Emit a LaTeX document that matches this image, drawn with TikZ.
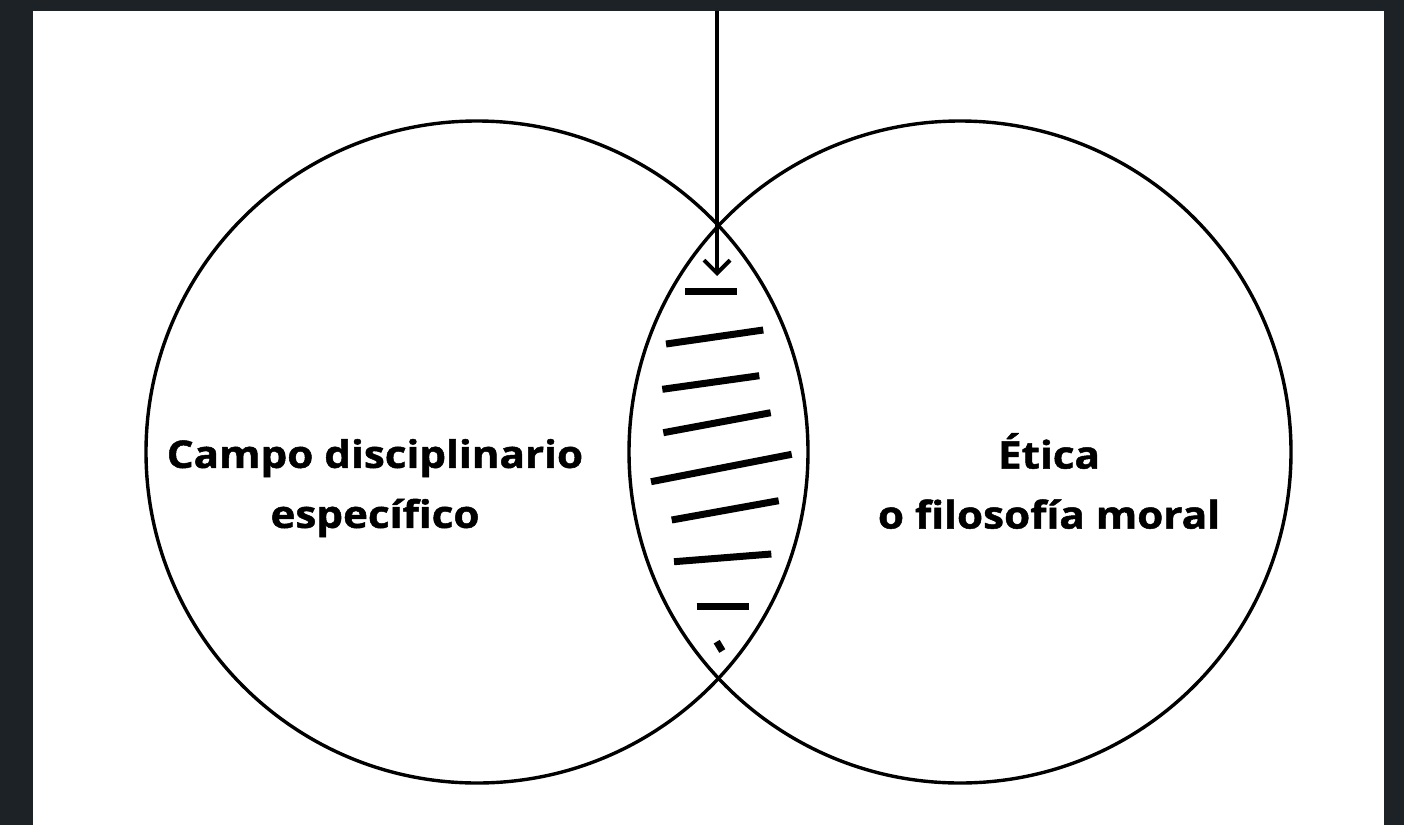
\documentclass[tikz,border=0pt]{standalone}
\usepackage{fontspec}
\setmainfont{Open Sans}
\newfontfamily\lblfont{Open Sans}[FakeStretch=1.11, BoldFeatures={FakeBold=1.3}]
\usetikzlibrary{arrows.meta}
\definecolor{frame}{HTML}{1C2226}
\tikzset{
  ring/.style={draw=black, line width=3.4pt, circle, minimum size=662pt, inner sep=0pt},
  hatch/.style={line width=7pt, line cap=butt},
  label/.style={font=\lblfont\fontsize{38}{60}\selectfont\bfseries, align=center, text=black},
  pointer/.style={line width=4pt, -{Straight Barb[length=13pt, width=26pt, line width=4pt]}}
}
\begin{document}
\begin{tikzpicture}[x=1pt, y=-1pt]
\fill[frame] (0,0) rectangle (1404,825);
\fill[white] (33,11) rectangle (1384,825);
\useasboundingbox (0,0) rectangle (1404,825);
\node[ring] (L) at (477,452) {};
\node[ring] (R) at (960,452) {};
% hatch marks
\coordinate (h1a) at (685,291.7); \coordinate (h1b) at (737.3,291.7);
\coordinate (h2a) at (666,344); \coordinate (h2b) at (763.3,330);
\coordinate (h3a) at (662.3,389.3); \coordinate (h3b) at (759.3,375.7);
\coordinate (h4a) at (663.3,432.7); \coordinate (h4b) at (770.7,412.7);
\coordinate (h5a) at (651,481.7); \coordinate (h5b) at (791.7,454.3);
\coordinate (h6a) at (671.7,520); \coordinate (h6b) at (778.7,500.7);
\coordinate (h7a) at (674,561.7); \coordinate (h7b) at (771.3,554);
\coordinate (h8a) at (696.7,606); \coordinate (h8b) at (749,606);
\coordinate (h9a) at (716.7,641.7); \coordinate (h9b) at (722.3,651);
\foreach \i in {1,...,9} {\draw[hatch] (h\i a) -- (h\i b);}
% arrow
\coordinate (top) at (717,11);
\coordinate (tip) at (717,276);
\draw[pointer] (top) -- (tip);
% labels
\node[label] (lt) at (375,488) {Campo disciplinario\\específico};
\node[label] (rt) at (1049,481) {Ética\\o filosofía moral};
\end{tikzpicture}
\end{document}
